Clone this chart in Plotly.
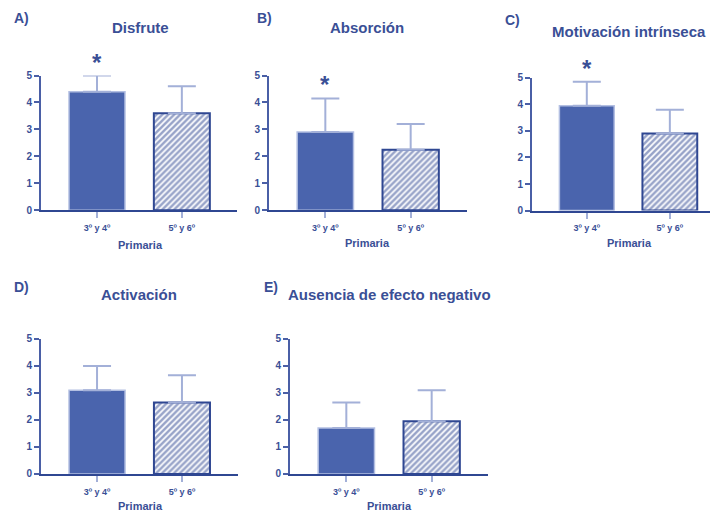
import plotly.graph_objects as go

# reference canvas and page offset (browser body margin)
W, H = 718, 520
OFF = 8
WF, HF = W - OFF, H - OFF

panel_titles = ["Disfrute", "Absorción", "Motivación intrínseca", "Activación", "Ausencia de efecto negativo"]
panel_letters = ["A)", "B)", "C)", "D)", "E)"]
categories = ["3º y 4º", "5º y 6º"]
means_34 = [4.4, 2.9, 3.95, 3.1, 1.7]
means_56 = [3.6, 2.25, 2.9, 2.65, 1.95]
sd_34 = [0.6, 1.25, 0.9, 0.9, 0.95]
sd_56 = [1.0, 0.95, 0.9, 1.0, 1.15]
significant = [True, True, True, False, False]
y_ticks = [0, 1, 2, 3, 4, 5]
y_max = 5
x_label = "Primaria"


def px(x):
    return (x - OFF) / WF


def py(y):
    return 1 - (y - OFF) / HF


# layout geometry in reference pixels: (x_left, x_right, y_zero, y_top, x_range_right)
geom = [
    (41, 237, 209, 71, 1.65),
    (269, 467, 209, 71, 1.66),
    (532, 718, 209.3, 73.3, 1.58),
    (41, 238, 479, 340.7, 1.66),
    (290, 488, 479, 340.7, 1.66),
]
title_pos = [(140, 22), (367, 22), (629, 26), (139, 295), (390, 295)]
letter_pos = [(12, 12), (255, 12), (503, 14), (12, 288), (262, 288)]
primaria_pos = [(140, 245), (367, 243), (629, 243), (140, 512), (390, 512)]

TXT = "#3a4f96"
BAR = "#4a64ad"
DARK = "#2f4792"
ERR = "#a3b0d8"
AX = "#4a5fa6"
FONT = "Liberation Sans"

fig = go.Figure()
annotations = []
layout_axes = {}

for i in range(5):
    xl, xr, y0, y5, xr_range = geom[i]
    ax = "" if i == 0 else str(i + 1)
    xa, ya = "x" + ax, "y" + ax
    fig.add_trace(go.Bar(
        x=[categories[0]], y=[means_34[i]], width=0.66, xaxis=xa, yaxis=ya,
        marker=dict(color=BAR, line=dict(color="#b3bfe2", width=1.5)),
        error_y=dict(type="data", symmetric=False, array=[sd_34[i]], arrayminus=[0],
                     color=ERR, thickness=2, width=14),
        showlegend=False,
    ))
    fig.add_trace(go.Bar(
        x=[categories[1]], y=[means_56[i]], width=0.66, xaxis=xa, yaxis=ya,
        marker=dict(color="white", line=dict(color=DARK, width=2),
                    pattern=dict(shape="/", fgcolor=DARK, bgcolor="white", size=4.2, solidity=0.6)),
        error_y=dict(type="data", symmetric=False, array=[sd_56[i]], arrayminus=[0],
                     color=ERR, thickness=2, width=14),
        showlegend=False,
    ))
    if significant[i]:
        annotations.append(dict(
            x=categories[0], xref=xa,
            y=(means_34[i] + sd_34[i] + 0.5) / y_max, yref=ya + " domain",
            text="<b>*</b>", showarrow=False, xanchor="center", yanchor="middle",
            font=dict(family=FONT, size=24, color=TXT),
        ))
    layout_axes["xaxis" + ax] = dict(
        domain=[px(xl), min(1.0, px(xr))], anchor=ya, type="category",
        categoryorder="array", categoryarray=categories,
        range=[-0.66, xr_range], showline=True, linecolor=DARK, linewidth=2,
        ticks="outside", ticklen=6, tickcolor=ERR, tickwidth=1.5,
        tickfont=dict(family=FONT, size=9, color=TXT, weight="bold"),
        ticklabelstandoff=2, showgrid=False, zeroline=False, fixedrange=True,
    )
    layout_axes["yaxis" + ax] = dict(
        domain=[py(y0), py(y5)], anchor=xa, range=[0, y_max],
        tickvals=y_ticks, showline=True, linecolor=AX, linewidth=2,
        ticks="outside", ticklen=5, tickcolor=AX, tickwidth=1.5,
        tickfont=dict(family=FONT, size=10, color=TXT, weight="bold"),
        showgrid=False, zeroline=False, fixedrange=True,
    )
    tx, ty = title_pos[i]
    annotations.append(dict(x=px(tx), y=py(ty), xref="paper", yref="paper",
                            text="<b>" + panel_titles[i] + "</b>", showarrow=False,
                            xanchor="center", yanchor="middle",
                            font=dict(family=FONT, size=15, color=TXT)))
    lx, ly = letter_pos[i]
    annotations.append(dict(x=px(lx), y=py(ly), xref="paper", yref="paper",
                            text="<b>" + panel_letters[i] + "</b>", showarrow=False,
                            xanchor="left", yanchor="middle",
                            font=dict(family=FONT, size=14, color=TXT)))
    qx, qy = primaria_pos[i]
    annotations.append(dict(x=px(qx), y=py(qy), xref="paper", yref="paper",
                            text="<b>" + x_label + "</b>", showarrow=False,
                            xanchor="center", yanchor="middle",
                            font=dict(family=FONT, size=11, color=TXT)))

fig.update_layout(
    width=WF, height=HF, margin=dict(l=0, r=0, t=0, b=0),
    paper_bgcolor="white", plot_bgcolor="white",
    annotations=annotations, barmode="overlay", **layout_axes,
)

fig.write_html("out.html", config={"displayModeBar": False})
